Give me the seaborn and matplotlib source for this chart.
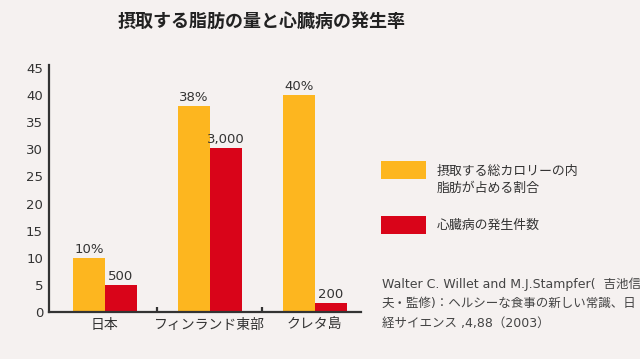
import matplotlib
matplotlib.use("Agg")
import matplotlib.pyplot as plt
import seaborn as sns
import pandas as pd
from matplotlib.patches import Rectangle

# ---- data ----
categories = ["日本", "フィンランド東部", "クレタ島"]
fat_share = [10, 38, 40]
fat_labels = ["10%", "38%", "40%"]
heart_scaled = [5.0, 30.2, 1.7]
heart_labels = ["500", "3,000", "200"]
series_names = ["摂取する総カロリーの内\n脂肪が占める割合", "心臓病の発生件数"]
y_ticks = [0, 5, 10, 15, 20, 25, 30, 35, 40, 45]

BG = "#f5f1f0"
YELLOW = "#fdb61f"
RED = "#d90419"
DARK = "#333333"

sns.set_theme(style="white")
plt.rcParams["font.family"] = ["DejaVu Sans", "Noto Sans CJK JP"]

df = pd.DataFrame({
    "region": categories * 2,
    "value": fat_share + heart_scaled,
    "series": [series_names[0]] * 3 + [series_names[1]] * 3,
})

fig = plt.figure(figsize=(6.4, 3.59), dpi=100)
fig.patch.set_facecolor(BG)
ax = fig.add_axes([0.077, 0.131, 0.487, 0.688])
ax.set_facecolor(BG)

sns.barplot(data=df, x="region", y="value", hue="series", order=categories,
            hue_order=series_names, palette=[YELLOW, RED], width=0.61,
            dodge=True, gap=0, saturation=1, legend=False, ax=ax,
            edgecolor="none", linewidth=0)

for cont, labs in zip(ax.containers, [fat_labels, heart_labels]):
    ax.bar_label(cont, labels=labs, padding=1.5, fontsize=9.5, color=DARK)

ax.set_xlim(-0.53, 2.44)
ax.set_ylim(0, 45.55)
ax.set_yticks(y_ticks)
ax.set_yticklabels([str(t) for t in y_ticks], fontsize=9.5, color=DARK)
ax.tick_params(axis="y", length=0, pad=4.5)
ax.tick_params(axis="x", which="major", length=0, pad=4, labelsize=10, labelcolor=DARK)
ax.set_xticks([0.5, 1.5], minor=True)
ax.tick_params(axis="x", which="minor", direction="in", length=3.8, width=1.6, color=DARK, bottom=True)
ax.set_xlabel("")
ax.set_ylabel("")
for s in ["top", "right"]:
    ax.spines[s].set_visible(False)
for s in ["left", "bottom"]:
    ax.spines[s].set_color(DARK)
    ax.spines[s].set_linewidth(1.6)

# title
fig.text(262 / 640, 1 - 22 / 359, "摂取する脂肪の量と心臓病の発生率", ha="center", va="center",
         fontsize=13, fontweight="bold", color="#222222")

# legend
W, H = 640, 359
def fx(x):
    return x / W
def fy(y):
    return 1 - y / H

for (y0, y1), col in zip([(161, 179), (216, 234)], [YELLOW, RED]):
    fig.patches.append(Rectangle((fx(381), fy(y1)), fx(426) - fx(381), fy(y0) - fy(y1),
                                 transform=fig.transFigure, facecolor=col, edgecolor="none"))
fig.text(fx(437), fy(180), series_names[0], ha="left", va="center", fontsize=9.3,
         color=DARK, linespacing=1.45)
fig.text(fx(437), fy(225.5), series_names[1], ha="left", va="center", fontsize=9.3, color=DARK)

citation = ["Walter C. Willet and M.J.Stampfer(  吉池信",
            "夫・監修)：ヘルシーな食事の新しい常識、日",
            "経サイエンス ,4,88（2003）"]
for i, line in enumerate(citation):
    fig.text(fx(381.5), fy(284 + i * 19.4), line, ha="left", va="center", fontsize=9,
             color="#444444")

fig.savefig("out.png", dpi=100, facecolor=BG)
